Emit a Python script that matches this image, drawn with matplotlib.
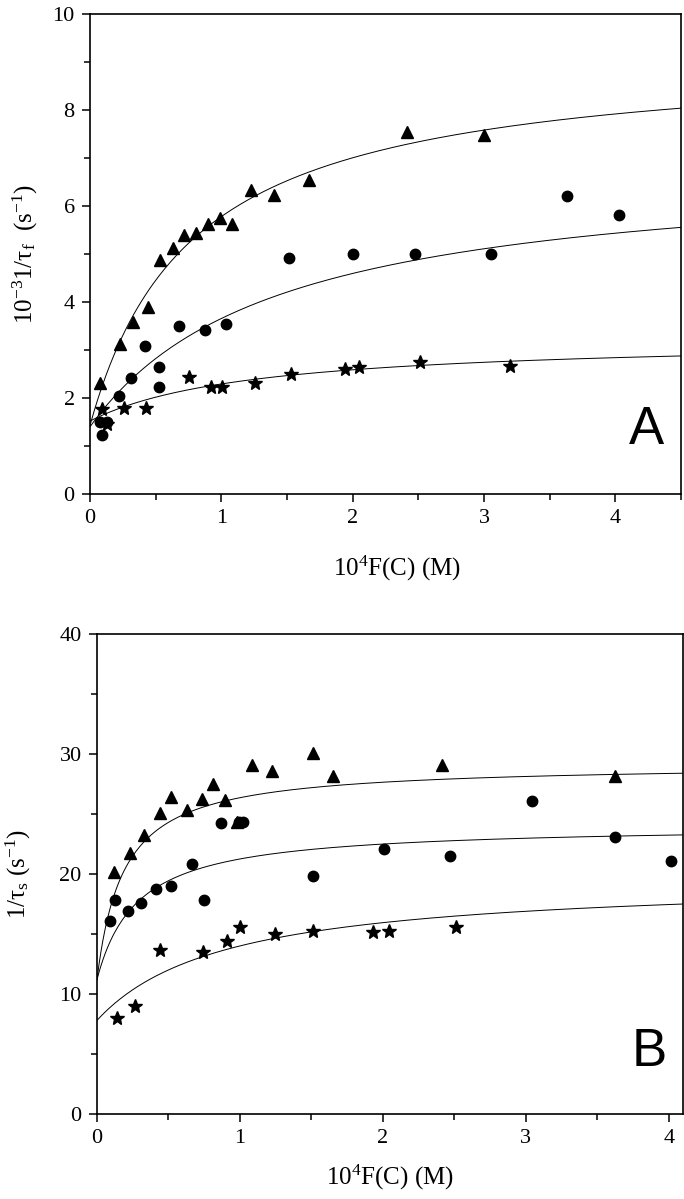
import numpy as np
import matplotlib
matplotlib.use("Agg")
from matplotlib import pyplot as plt
from matplotlib.ticker import MultipleLocator

plt.rcParams['font.family'] = ['Liberation Serif', 'DejaVu Serif']
plt.rcParams['mathtext.fontset'] = 'custom'
plt.rcParams['mathtext.rm'] = 'Liberation Serif'
plt.rcParams['mathtext.it'] = 'Liberation Serif:italic'

# panel A (fast relaxation)
tri_x_a = [0.074, 0.227, 0.33, 0.44, 0.53, 0.635, 0.714, 0.81, 0.90, 0.987, 1.084, 1.224, 1.403, 1.668, 2.41, 3.0]
tri_y_a = [2.32, 3.12, 3.59, 3.90, 4.87, 5.12, 5.40, 5.44, 5.63, 5.74, 5.63, 6.33, 6.22, 6.54, 7.54, 7.47]
circ_x_a = [0.074, 0.09, 0.128, 0.222, 0.31, 0.418, 0.528, 0.528, 0.676, 0.872, 1.038, 1.515, 2.0, 2.475, 3.05, 3.63, 4.03]
circ_y_a = [1.51, 1.22, 1.49, 2.04, 2.41, 3.08, 2.64, 2.23, 3.50, 3.41, 3.55, 4.91, 5.0, 5.0, 5.0, 6.21, 5.81]
star_x_a = [0.09, 0.13, 0.26, 0.43, 0.753, 0.918, 1.005, 1.26, 1.53, 1.94, 2.046, 2.51, 3.2]
star_y_a = [1.77, 1.45, 1.80, 1.80, 2.44, 2.23, 2.23, 2.32, 2.49, 2.60, 2.64, 2.75, 2.66]

# panel B (slow relaxation)
tri_x_b = [0.119, 0.229, 0.327, 0.444, 0.521, 0.633, 0.734, 0.808, 0.897, 0.981, 1.082, 1.222, 1.514, 1.654, 2.41, 3.62]
tri_y_b = [20.17, 21.73, 23.26, 25.05, 26.45, 25.32, 26.25, 27.48, 26.15, 24.32, 29.1, 28.57, 30.1, 28.14, 29.1, 28.14]
circ_x_b = [0.089, 0.124, 0.217, 0.311, 0.411, 0.521, 0.668, 0.748, 0.867, 0.995, 1.02, 1.509, 2.007, 2.468, 3.046, 3.626, 4.014]
circ_y_b = [16.08, 17.84, 16.94, 17.57, 18.74, 19.0, 20.83, 17.84, 24.25, 24.3, 24.3, 19.83, 22.06, 21.53, 26.05, 23.06, 21.06]
star_x_b = [0.143, 0.264, 0.444, 0.738, 0.911, 1.0, 1.248, 1.509, 1.93, 2.042, 2.51]
star_y_b = [8.04, 9.04, 13.69, 13.52, 14.45, 15.55, 15.02, 15.28, 15.15, 15.25, 15.55]

# fitted hyperbolas y = a + b*x/(k+x), order: triangle, circle, star
fit_a = [(1.43, 7.76, 0.784), (1.40, 5.47, 1.424), (1.52, 1.73, 1.24)]
fit_b = [(11.2, 17.98, 0.186), (11.2, 12.89, 0.282), (7.8, 11.85, 0.909)]


def hyper(x, p):
    a, b, k = p
    return a + b * x / (k + x)


def style_axes(ax, xmax, ymax, ymajor):
    ax.set_xlim(0, xmax)
    ax.set_ylim(0, ymax)
    ax.xaxis.set_major_locator(MultipleLocator(1))
    ax.xaxis.set_minor_locator(MultipleLocator(0.5))
    ax.yaxis.set_major_locator(MultipleLocator(ymajor))
    ax.yaxis.set_minor_locator(MultipleLocator(ymajor / 2))
    ax.tick_params(which='both', direction='out', top=False, right=False, width=1.1,
                   labelsize=16, pad=5)
    ax.tick_params(which='major', length=6)
    ax.tick_params(which='minor', length=4)
    for s in ax.spines.values():
        s.set_linewidth(1.2)


def draw_panel(ax, tri, circ, star, fits, xmax):
    xs = np.linspace(0, xmax, 300)
    for p in fits:
        ax.plot(xs, hyper(xs, p), color='black', lw=0.7)
    ax.plot(tri[0], tri[1], '^', color='black', ms=9, ls='none')
    ax.plot(circ[0], circ[1], 'o', color='black', ms=7.5, ls='none')
    ax.plot(star[0], star[1], '*', color='black', ms=10, ls='none')


fig = plt.figure(figsize=(6.84, 11.99), dpi=100)
ax1 = fig.add_axes([0.1316, 0.588, 0.864, 0.4003])
ax2 = fig.add_axes([0.1418, 0.0709, 0.857, 0.4003])

draw_panel(ax1, (tri_x_a, tri_y_a), (circ_x_a, circ_y_a), (star_x_a, star_y_a), fit_a, 4.5)
style_axes(ax1, 4.5, 10, 2)
ax1.set_xlabel(r'10$^{4}$F(C) (M)', fontsize=18, va='center')
ax1.xaxis.set_label_coords(0.52, -0.155)
ax1.set_ylabel(r'10$^{-3}$1/τ$_{\mathrm{f}}$  (s$^{-1}$)', fontsize=18)
ax1.yaxis.set_label_coords(-0.085, 0.5)
ax1.text(0.972, 0.104, 'A', transform=ax1.transAxes, ha='right', va='baseline',
         fontsize=38, family='Liberation Sans')

draw_panel(ax2, (tri_x_b, tri_y_b), (circ_x_b, circ_y_b), (star_x_b, star_y_b), fit_b, 4.1)
style_axes(ax2, 4.1, 40, 10)
ax2.set_xlabel(r'10$^{4}$F(C) (M)', fontsize=18, va='center')
ax2.xaxis.set_label_coords(0.5, -0.133)
ax2.set_ylabel(r'1/τ$_{\mathrm{s}}$ (s$^{-1}$)', fontsize=18)
ax2.yaxis.set_label_coords(-0.11, 0.5)
ax2.text(0.973, 0.101, 'B', transform=ax2.transAxes, ha='right', va='baseline',
         fontsize=38, family='Liberation Sans')

fig.savefig('out.png', dpi=100)
